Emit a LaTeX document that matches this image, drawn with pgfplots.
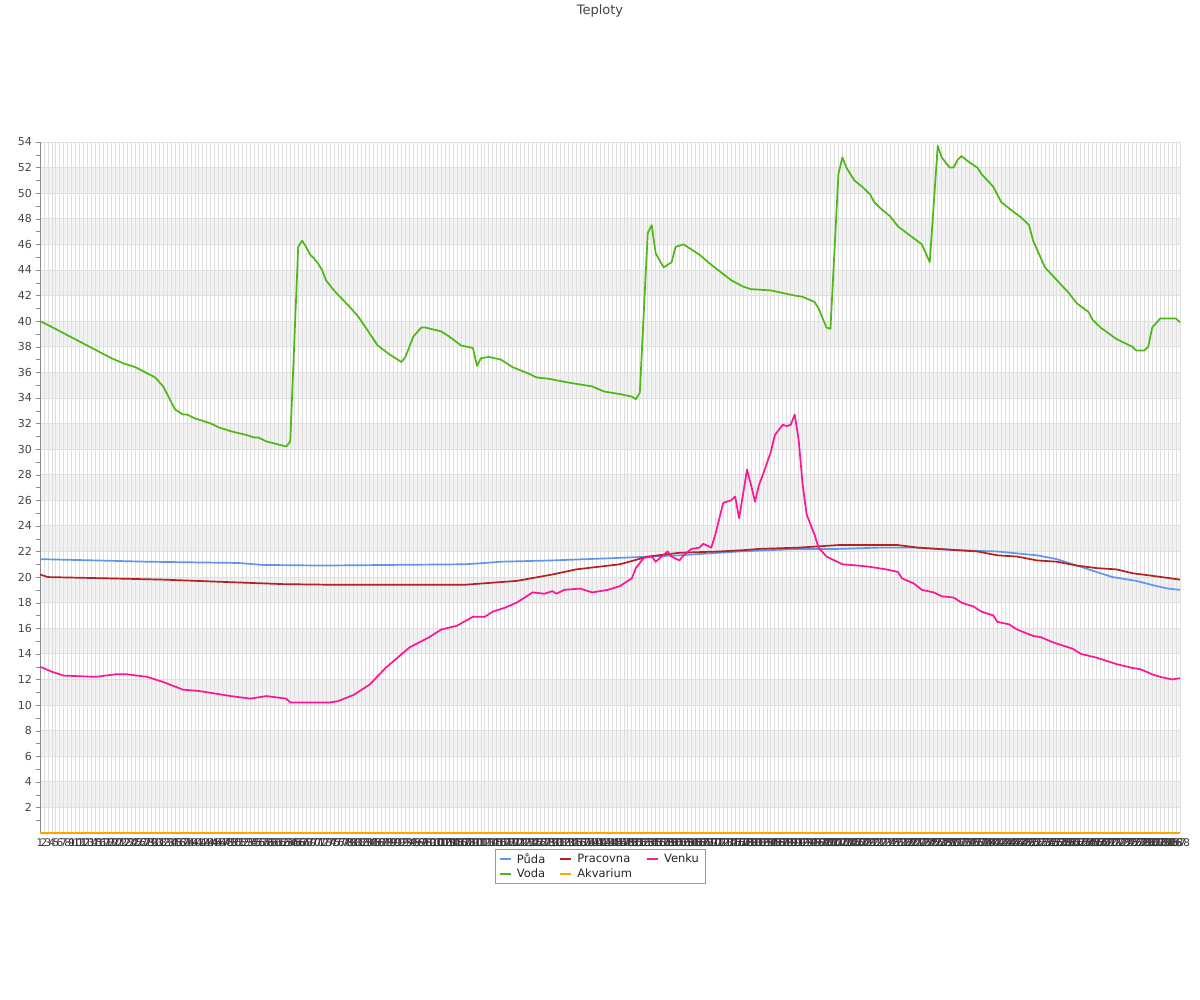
\documentclass[border=0pt]{standalone}
\usepackage{fontspec}
\setmainfont{DejaVu Sans}
\usepackage{pgfplots}
\pgfplotsset{compat=1.18}
\definecolor{cpuda}{HTML}{6495ED}
\definecolor{cprac}{HTML}{B22222}
\definecolor{cvenku}{HTML}{FF1493}
\definecolor{cvoda}{HTML}{4CB813}
\definecolor{cakv}{HTML}{FFA500}
\definecolor{ctext}{HTML}{444444}
\begin{document}
\begin{tikzpicture}[x=1pt,y=1pt]
\begin{axis}[
  set layers,
  at={(40pt,167pt)}, anchor=south west,
  scale only axis, width=1140pt, height=691pt,
  xmin=1, xmax=288, ymin=0, ymax=54,
  clip=false,
  axis lines*=left,
  axis line style={draw=gray!90},
  xtick={1,...,288},
  xtick style={draw=none},
  ytick={2,4,...,54},
  minor ytick={1,3,...,53},
  ytick style={draw=gray!90},
  tick align=outside,
  major tick length=4.5pt, minor tick length=4.5pt,
  xmajorgrids, ymajorgrids,
  major grid style={draw=gray!25, line width=0.8pt},
  ticklabel style={font=\fontsize{11}{13}\selectfont, text=ctext},
  xticklabel style={font=\fontsize{10.5}{12}\selectfont, inner sep=1pt, text=black!80},
  /pgf/number format/assume math mode=true,
  legend columns=3,
  legend cell align=left,
  legend style={at={(0.4912,-0.023)}, anchor=north, draw=gray!80,
    font=\fontsize{11.5}{14}\selectfont, text=black!85,
    inner xsep=4pt, inner ysep=2.5pt,
    /tikz/every odd column/.append style={column sep=3pt},
    /tikz/every even column/.append style={column sep=12pt}},
  legend image code/.code={\draw[#1, line width=2pt] (0pt,0pt) -- (11pt,0pt);},
  every axis plot/.append style={line width=1.7pt, line join=round},
]
\begin{pgfonlayer}{axis background}
\pgfplotsinvokeforeach{2,6,10,14,18,22,26,30,34,38,42,46,50}{
  \fill[gray!10] (axis cs:1,#1) rectangle (axis cs:288,#1+2);
}
\end{pgfonlayer}

% Puda
\addplot[cpuda] coordinates {(1,21.4)(15,21.3)(28,21.2)(51,21.1)(57,20.95)(72,20.9)(108,21.0)(113,21.1)(117,21.2)(130,21.3)(147,21.5)(162,21.7)(177,22.0)(192,22.2)(202,22.2)(212,22.3)(222,22.3)(232,22.1)(242,22.0)(252,21.7)(257,21.4)(262,20.9)(267,20.4)(271,20.0)(277,19.7)(282,19.3)(285,19.1)(288,19.0)};
\addlegendentry{Půda}
% Pracovna
\addplot[cprac] coordinates {(1,20.2)(3,20.0)(18,19.9)(32,19.8)(49,19.6)(62,19.45)(74,19.4)(108,19.4)(121,19.7)(130,20.2)(136,20.6)(147,21.0)(154,21.6)(162,21.9)(172,22.0)(178,22.1)(182,22.2)(192,22.3)(197,22.4)(202,22.5)(217,22.5)(222,22.3)(232,22.1)(237,22.0)(242,21.7)(247,21.6)(252,21.3)(257,21.2)(262,20.9)(267,20.7)(272,20.6)(276,20.3)(281,20.1)(288,19.8)};
\addlegendentry{Pracovna}
% Venku
\addplot[cvenku] coordinates {(1,13.0)(4,12.6)(7,12.3)(15,12.2)(20,12.4)(23,12.4)(28,12.2)(32,11.8)(37,11.2)(41,11.1)(49,10.7)(54,10.5)(58,10.7)(63,10.5)(64,10.2)(74,10.2)(76,10.3)(80,10.8)(84,11.6)(88,12.9)(94,14.5)(99,15.3)(102,15.9)(106,16.2)(110,16.9)(113,16.9)(115,17.3)(118,17.6)(121,18.0)(125,18.8)(128,18.7)(130,18.9)(131,18.7)(133,19.0)(137,19.1)(140,18.8)(144,19.0)(147,19.3)(150,19.9)(151,20.7)(153,21.5)(155,21.6)(156,21.2)(159,22.0)(160,21.6)(162,21.3)(163,21.7)(165,22.2)(167,22.3)(168,22.6)(170,22.3)(171,23.3)(173,25.8)(175,26.0)(176,26.3)(177,24.6)(179,28.4)(180,27.2)(181,25.9)(182,27.2)(183,28.0)(185,29.8)(186,31.1)(188,31.9)(189,31.8)(190,31.9)(191,32.7)(192,30.7)(193,27.2)(194,24.9)(196,23.3)(197,22.3)(199,21.6)(201,21.3)(203,21.0)(207,20.9)(210,20.8)(214,20.6)(217,20.4)(218,19.9)(221,19.5)(223,19.0)(226,18.8)(228,18.5)(231,18.4)(233,18.0)(236,17.7)(238,17.3)(241,17.0)(242,16.5)(245,16.3)(247,15.9)(251,15.4)(253,15.3)(256,14.9)(258,14.7)(261,14.4)(263,14.0)(267,13.7)(270,13.4)(272,13.2)(276,12.9)(278,12.8)(281,12.4)(283,12.2)(286,12.0)(288,12.1)};
\addlegendentry{Venku}
% Voda
\addplot[cvoda] coordinates {(1,40.0)(3,39.7)(19,37.1)(22,36.7)(25,36.4)(30,35.6)(32,34.9)(35,33.1)(37,32.7)(38,32.7)(40,32.4)(44,32.0)(46,31.7)(49,31.4)(53,31.1)(55,30.9)(56,30.9)(58,30.6)(63,30.2)(64,30.6)(66,45.8)(67,46.3)(68,45.8)(69,45.2)(70,44.9)(71,44.5)(72,44.0)(73,43.2)(75,42.4)(79,41.1)(81,40.4)(83,39.5)(86,38.1)(89,37.4)(92,36.8)(93,37.2)(95,38.8)(97,39.5)(98,39.5)(102,39.2)(104,38.8)(107,38.1)(110,37.9)(111,36.5)(112,37.1)(114,37.2)(117,37.0)(120,36.4)(124,35.9)(126,35.6)(129,35.5)(134,35.2)(140,34.9)(143,34.5)(147,34.3)(150,34.1)(151,33.9)(152,34.4)(154,46.9)(155,47.5)(156,45.3)(158,44.2)(160,44.6)(161,45.8)(163,46.0)(165,45.6)(167,45.2)(170,44.4)(175,43.2)(178,42.7)(180,42.5)(185,42.4)(191,42.0)(193,41.9)(196,41.5)(197,41.0)(199,39.5)(200,39.4)(202,51.5)(203,52.8)(204,52.0)(206,51.0)(208,50.5)(210,49.9)(211,49.3)(213,48.7)(215,48.2)(217,47.4)(220,46.7)(223,46.0)(224,45.3)(225,44.6)(227,53.7)(228,52.8)(230,52.0)(231,52.0)(232,52.6)(233,52.9)(235,52.4)(237,52.0)(238,51.5)(241,50.5)(243,49.3)(245,48.8)(248,48.1)(250,47.5)(251,46.3)(254,44.2)(257,43.2)(260,42.2)(262,41.4)(265,40.7)(266,40.1)(268,39.5)(272,38.6)(276,38.0)(277,37.7)(279,37.7)(280,38.0)(281,39.5)(283,40.2)(285,40.2)(287,40.2)(288,39.9)};
\addlegendentry{Voda}
% Akvarium
\addplot[cakv] coordinates {(1,0)(288,0)};
\addlegendentry{Akvarium}
\end{axis}
\node[font=\fontsize{13}{15}\selectfont, text=ctext] at (600,989) {Teploty};
\pgfresetboundingbox
\useasboundingbox (0,0) rectangle (1200,1000);
\end{tikzpicture}
\end{document}
